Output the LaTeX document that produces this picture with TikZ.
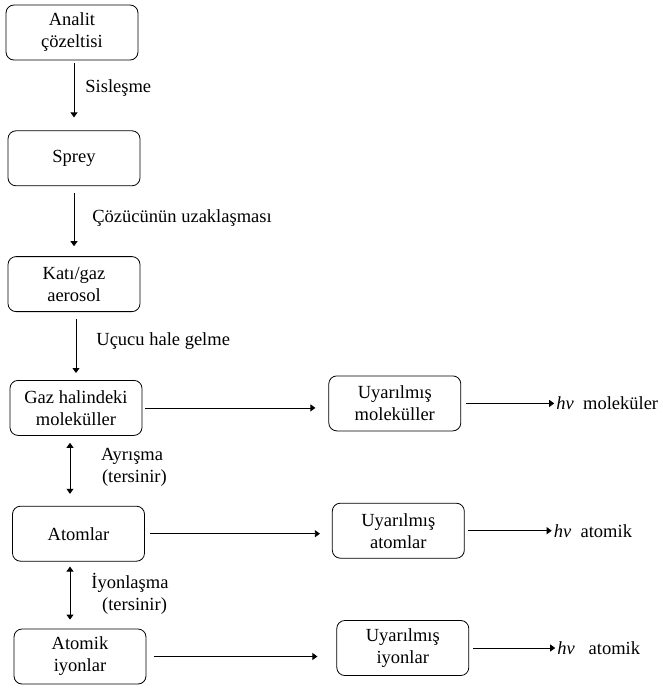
\documentclass[tikz,border=0pt]{standalone}
\usepackage{fontspec}
\setmainfont{Liberation Serif}
\usetikzlibrary{arrows.meta,positioning}

\begin{document}
\begin{tikzpicture}[x=1pt,y=-1pt,
  box/.style={draw,rounded corners=8pt,line width=0.8pt,minimum width=132pt,minimum height=55pt,align=center,inner sep=2pt,font=\fontsize{18.5}{22}\selectfont},
  lab/.style={anchor=west,inner sep=0pt,align=center,font=\fontsize{18.5}{22}\selectfont},
  emit/.style={inner sep=0pt,font=\fontsize{18.5}{22}\selectfont},
  flow/.style={-{Triangle[length=5pt,width=7pt]},line width=0.8pt},
  both/.style={{Triangle[length=5pt,width=7pt]}-{Triangle[length=5pt,width=7pt]},line width=0.8pt}
]
\useasboundingbox (0,0) rectangle (662,688);
% left column
\node[box] (sol) at (72,32.5) {Analit\\çözeltisi};
\node[box,below=70pt of sol,xshift=2pt] (sprey) {Sprey};
\node[box,below=70pt of sprey] (aero) {Katı/gaz\\aerosol};
\node[box,below=68pt of aero,xshift=2pt] (gaz) {Gaz halindeki\\moleküller};
\node[box,below=70pt of gaz,xshift=2.5pt] (atom) {Atomlar};
\node[box,below=67pt of atom,xshift=1.5pt] (ion) {Atomik\\iyonlar};
% excited states
\node[box,right=186pt of gaz,yshift=4.5pt] (umol) {Uyarılmış\\moleküller};
\node[box,right=187pt of atom,yshift=3pt] (uatom) {Uyarılmış\\atomlar};
\node[box,right=190pt of ion,yshift=8.5pt] (uion) {Uyarılmış\\iyonlar};
% emission
\node[emit,right=95pt of umol] (emol) {\textit{hν}\ \ moleküler};
\node[emit,right=89pt of uatom] (eatom) {\textit{hν}\ \ atomik};
\node[emit,right=88pt of uion] (eion) {\textit{hν}\ \ \ atomik};

\draw[flow,shorten <=3pt,shorten >=13pt] (sprey.north |- sol.south) -- (sprey.north)
  node[lab,pos=0.4,xshift=11pt] {Sisleşme};
\draw[flow,shorten <=7pt,shorten >=10pt] (sprey.south) -- (aero.north)
  node[lab,pos=0.46,xshift=18pt] {Çözücünün uzaklaşması};
\draw[flow,shorten <=7pt,shorten >=7pt] (gaz.north |- aero.south) -- (gaz.north)
  node[lab,pos=0.43,xshift=20pt] {Uçucu hale gelme};
\draw[both,shorten <=7pt,shorten >=12pt] ([xshift=-6pt]gaz.south) -- ([xshift=-8.5pt]atom.north)
  node[lab,pos=0.45,xshift=27pt] {Ayrışma\\\ (tersinir)};
\draw[both,shorten <=5pt,shorten >=9pt] ([xshift=-8.5pt]atom.south) -- ([xshift=-10pt]ion.north)
  node[lab,pos=0.48,xshift=21pt] {İyonlaşma\\\ \ (tersinir)};

\draw[flow,shorten <=3pt,shorten >=13pt] (gaz.east) -- (gaz.east -| umol.west);
\draw[flow,shorten <=5pt,shorten >=12pt] (atom.east) -- (atom.east -| uatom.west);
\draw[flow,shorten <=8pt,shorten >=19pt] (ion.east) -- (ion.east -| uion.west);

\draw[flow,shorten <=5pt,shorten >=2pt] (umol) -- (emol);
\draw[flow,shorten <=3pt,shorten >=2pt] (uatom) -- (eatom);
\draw[flow,shorten <=4pt,shorten >=2pt] (uion) -- (eion);
\end{tikzpicture}
\end{document}
